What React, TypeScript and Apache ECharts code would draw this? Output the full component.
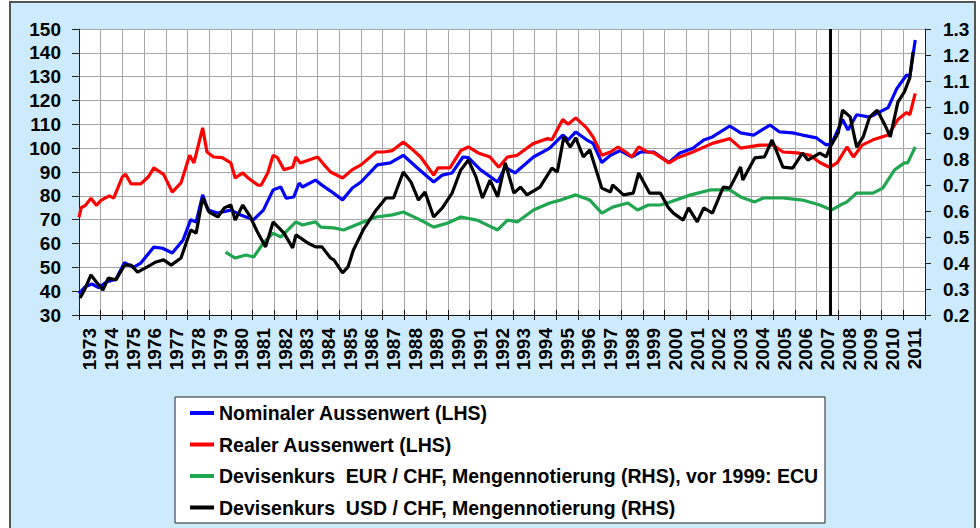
import React, { useEffect, useRef } from "react";
import * as echarts from "echarts";

const years = Array.from({ length: 39 }, (_, i) => String(1973 + i));
const leftTicks = { min: 30, max: 150, step: 10 };
const rightTicks = { min: 0.2, max: 1.3, step: 0.1 };

const seriesNames = [
  "Nominaler Aussenwert (LHS)",
  "Realer Aussenwert (LHS)",
  "Devisenkurs  EUR / CHF, Mengennotierung (RHS), vor 1999: ECU",
  "Devisenkurs  USD / CHF, Mengennotierung (RHS)",
];

const nominal: number[][] = [
  [1973.0, 39], [1973.3, 42], [1973.6, 43], [1973.9, 41.5], [1974.3, 44], [1974.7, 45],
  [1975.1, 52], [1975.5, 50], [1975.85, 51.8], [1976.45, 58.5], [1976.85, 58], [1977.3, 56],
  [1977.8, 61.5], [1978.15, 70], [1978.4, 69], [1978.7, 80.4], [1978.95, 74], [1979.4, 72.8],
  [1980.0, 74], [1980.45, 72], [1981.05, 70], [1981.5, 74], [1981.95, 82.5], [1982.3, 83.7],
  [1982.55, 79], [1982.9, 79.5], [1983.15, 85.4], [1983.3, 83.7], [1983.9, 86.6], [1984.2, 84.5],
  [1984.6, 82], [1985.15, 78.3], [1985.6, 83.3], [1986.0, 85.8], [1986.75, 93], [1987.35, 93.8],
  [1987.95, 97], [1988.6, 91.7], [1989.35, 85.8], [1989.75, 88.7], [1990.2, 89.6], [1990.7, 96.3],
  [1990.95, 96], [1991.5, 91], [1992.3, 85.8], [1992.65, 92], [1993.1, 89.6], [1993.95, 96.3],
  [1994.7, 100], [1995.3, 105.5], [1995.55, 103.5], [1995.9, 106.8], [1996.4, 103.5], [1996.7, 102],
  [1997.1, 94], [1997.5, 97], [1997.95, 99], [1998.5, 96.3], [1998.9, 98.4], [1999.5, 98.4],
  [2000.2, 94], [2000.7, 98], [2001.3, 100], [2001.8, 103.4], [2002.2, 104.7], [2003.0, 109.3],
  [2003.5, 106.4], [2004.1, 105.5], [2004.85, 109.7], [2005.3, 106.8], [2005.9, 106.4], [2006.35, 105.5],
  [2007.0, 104.3], [2007.45, 101.3], [2007.7, 102], [2008.2, 112], [2008.45, 107.6], [2008.85, 114],
  [2009.45, 113], [2010.3, 117], [2010.7, 125], [2011.15, 130.7], [2011.3, 130], [2011.55, 145.4],
];

const real: number[][] = [
  [1973.0, 71], [1973.1, 75], [1973.3, 76], [1973.55, 79], [1973.8, 76], [1974.0, 78],
  [1974.2, 79], [1974.4, 80], [1974.6, 79], [1975.0, 88], [1975.15, 89], [1975.4, 85],
  [1975.85, 85], [1976.2, 88], [1976.45, 91.7], [1976.9, 89], [1977.3, 81.6], [1977.7, 85.4],
  [1978.1, 97], [1978.3, 93.8], [1978.7, 108.5], [1978.9, 98.4], [1979.2, 96.3], [1979.6, 96],
  [1980.0, 93.8], [1980.2, 87.5], [1980.55, 89.6], [1980.8, 87.5], [1981.25, 84.5], [1981.4, 84.5],
  [1981.7, 89.6], [1981.95, 97], [1982.15, 96], [1982.45, 91], [1982.85, 92], [1983.0, 96.3],
  [1983.2, 93.8], [1983.6, 95], [1984.0, 96.3], [1984.3, 93], [1984.6, 90], [1985.15, 87.5],
  [1985.6, 91], [1986.0, 93], [1986.7, 98.4], [1987.05, 98.4], [1987.45, 99], [1987.95, 102.6],
  [1988.3, 100], [1988.75, 96.3], [1989.35, 88.7], [1989.55, 91.7], [1990.1, 91.7], [1990.6, 99],
  [1990.95, 100.5], [1991.4, 98], [1991.95, 96.3], [1992.35, 92], [1992.75, 96.3], [1993.2, 97],
  [1993.95, 102], [1994.6, 104], [1994.8, 103.5], [1995.3, 112], [1995.55, 110], [1995.9, 112.7],
  [1996.4, 108.5], [1996.7, 104.7], [1997.1, 97], [1997.5, 98.4], [1997.85, 100.5], [1998.2, 98.4],
  [1998.5, 96.3], [1998.8, 100.5], [1999.2, 98.4], [1999.5, 98], [2000.2, 93.8], [2000.6, 96],
  [2001.3, 98.4], [2002.2, 102], [2003.0, 104], [2003.5, 100], [2004.4, 101.3], [2005.0, 101.3],
  [2005.45, 98.4], [2006.1, 98], [2006.7, 97], [2007.15, 94], [2007.6, 92], [2007.95, 93.8],
  [2008.4, 100.5], [2008.7, 96.3], [2009.1, 101.3], [2009.6, 103.5], [2010.3, 105.5], [2010.75, 112],
  [2011.15, 115], [2011.3, 114], [2011.55, 123],
];

const eurChf: number[][] = [
  [1979.75, 0.442], [1980.2, 0.419], [1980.7, 0.431], [1981.05, 0.423], [1981.5, 0.477], [1981.95, 0.515],
  [1982.3, 0.5], [1983.0, 0.558], [1983.3, 0.546], [1983.9, 0.558], [1984.15, 0.538], [1984.75, 0.535],
  [1985.2, 0.527], [1986.1, 0.558], [1986.7, 0.577], [1987.45, 0.585], [1987.95, 0.596], [1988.75, 0.565],
  [1989.35, 0.538], [1990.0, 0.554], [1990.6, 0.577], [1991.35, 0.565], [1992.3, 0.527], [1992.75, 0.565],
  [1993.2, 0.558], [1993.95, 0.604], [1994.7, 0.631], [1995.2, 0.642], [1995.9, 0.662], [1996.55, 0.642],
  [1997.1, 0.592], [1997.6, 0.615], [1998.3, 0.631], [1998.75, 0.604], [1999.25, 0.623], [1999.8, 0.623],
  [2000.25, 0.635], [2001.2, 0.662], [2002.1, 0.681], [2003.0, 0.681], [2003.5, 0.654], [2004.15, 0.635],
  [2004.55, 0.65], [2005.45, 0.65], [2006.35, 0.642], [2007.15, 0.623], [2007.7, 0.604], [2008.1, 0.623],
  [2008.4, 0.635], [2008.85, 0.669], [2009.6, 0.669], [2010.05, 0.688], [2010.6, 0.758], [2011.05, 0.785],
  [2011.2, 0.785], [2011.55, 0.846],
];

const usdChf: number[][] = [
  [1973.05, 0.265], [1973.25, 0.296], [1973.55, 0.354], [1973.8, 0.327], [1974.1, 0.296], [1974.35, 0.342],
  [1974.7, 0.335], [1975.1, 0.392], [1975.4, 0.392], [1975.7, 0.365], [1976.15, 0.385], [1976.55, 0.404],
  [1976.9, 0.412], [1977.25, 0.392], [1977.7, 0.419], [1978.15, 0.527], [1978.4, 0.515], [1978.7, 0.65],
  [1979.0, 0.596], [1979.4, 0.577], [1979.7, 0.612], [1980.0, 0.623], [1980.2, 0.565], [1980.55, 0.623],
  [1980.9, 0.577], [1981.25, 0.515], [1981.6, 0.462], [1981.95, 0.558], [1982.45, 0.515], [1982.85, 0.458],
  [1983.0, 0.508], [1983.55, 0.477], [1983.9, 0.462], [1984.2, 0.462], [1984.6, 0.419], [1984.75, 0.412],
  [1985.15, 0.362], [1985.4, 0.385], [1985.65, 0.45], [1986.1, 0.527], [1986.7, 0.604], [1987.15, 0.65],
  [1987.5, 0.65], [1987.95, 0.75], [1988.3, 0.712], [1988.65, 0.642], [1988.95, 0.673], [1989.35, 0.577],
  [1989.75, 0.612], [1990.2, 0.669], [1990.6, 0.758], [1990.95, 0.796], [1991.3, 0.731], [1991.6, 0.65],
  [1991.95, 0.719], [1992.3, 0.654], [1992.65, 0.785], [1993.05, 0.669], [1993.35, 0.692], [1993.65, 0.662],
  [1994.25, 0.692], [1994.8, 0.765], [1995.05, 0.75], [1995.35, 0.885], [1995.65, 0.846], [1995.9, 0.881],
  [1996.25, 0.808], [1996.55, 0.835], [1997.1, 0.688], [1997.5, 0.673], [1997.6, 0.7], [1998.1, 0.662],
  [1998.55, 0.669], [1998.8, 0.746], [1999.3, 0.669], [1999.8, 0.669], [2000.15, 0.615], [2000.4, 0.592],
  [2000.85, 0.565], [2001.1, 0.612], [2001.5, 0.558], [2001.8, 0.612], [2002.2, 0.592], [2002.7, 0.692],
  [2003.0, 0.688], [2003.5, 0.769], [2003.6, 0.719], [2004.15, 0.804], [2004.6, 0.808], [2004.95, 0.873],
  [2005.45, 0.769], [2005.9, 0.765], [2006.35, 0.823], [2006.6, 0.796], [2007.15, 0.823], [2007.45, 0.808],
  [2007.6, 0.842], [2008.0, 0.9], [2008.2, 0.988], [2008.55, 0.962], [2008.85, 0.846], [2009.15, 0.885],
  [2009.45, 0.962], [2009.8, 0.988], [2010.15, 0.931], [2010.4, 0.885], [2010.75, 1.019], [2011.05, 1.058],
  [2011.3, 1.112], [2011.45, 1.212],
];

const crisisMarker = 2007.65;

const FONT = "'Liberation Sans', Arial, sans-serif";

export default function App() {
  const ref = useRef<HTMLDivElement>(null);

  useEffect(() => {
    if (!ref.current) return;
    const chart = echarts.init(ref.current, undefined, { renderer: "svg" });
    const lineSeries = (name: string, data: number[][], color: string, yIdx: number, extra: any = {}) => ({
      type: "line",
      name,
      data,
      xAxisIndex: 1,
      yAxisIndex: yIdx,
      showSymbol: false,
      symbol: "none",
      lineStyle: { color, width: 3.2 },
      itemStyle: { color },
      ...extra,
    });

    chart.setOption({
      animation: false,
      backgroundColor: "#ffffff",
      graphic: [
        {
          type: "rect",
          z: -10,
          shape: { x: 10, y: 2, width: 965, height: 540 },
          style: { fill: "#cdebfc", stroke: "#555555", lineWidth: 2 },
        },
        {
          type: "rect",
          z: 1,
          shape: { x: 175, y: 397, width: 650, height: 126 },
          style: { fill: "#ffffff", stroke: "#222222", lineWidth: 1 },
        },
      ],
      grid: {
        left: 79,
        top: 29,
        width: 846,
        height: 286,
        show: true,
        backgroundColor: "#ffffff",
        borderWidth: 0,
      },
      legend: {
        orient: "vertical",
        left: 185,
        top: 398,
        z: 5,
        itemGap: 11.5,
        itemWidth: 24,
        itemHeight: 4,
        icon: "rect",
        data: seriesNames,
        textStyle: {
          fontFamily: FONT,
          fontWeight: "bold",
          fontSize: 19.5,
          lineHeight: 20,
          color: "#000",
        },
      },
      xAxis: [
        {
          type: "category",
          data: years,
          position: "bottom",
          boundaryGap: true,
          axisLine: { show: true, lineStyle: { color: "#111", width: 1 } },
          axisTick: { show: true, inside: false, length: 5, interval: 0, lineStyle: { color: "#111" } },
          axisLabel: {
            interval: 0,
            rotate: 90,
            margin: 13,
            fontFamily: FONT,
            fontWeight: "bold",
            fontSize: 19,
            color: "#000",
          },
          splitLine: { show: false },
        },
        {
          type: "value",
          position: "bottom",
          min: 1973,
          max: 2012,
          interval: 1,
          axisLine: { show: false },
          axisTick: { show: true, inside: true, length: 5, lineStyle: { color: "#111" } },
          axisLabel: { show: false },
          splitLine: { show: true, lineStyle: { color: "#a6a6a6", width: 1 } },
        },
      ],
      yAxis: [
        {
          type: "value",
          position: "left",
          min: leftTicks.min,
          max: leftTicks.max,
          interval: leftTicks.step,
          axisLine: { show: true, lineStyle: { color: "#222", width: 1 } },
          axisTick: { show: true, inside: false, length: 7, lineStyle: { color: "#222" } },
          axisLabel: {
            margin: 18,
            fontFamily: FONT,
            fontWeight: "bold",
            fontSize: 19,
            color: "#000",
          },
          splitLine: { show: true, lineStyle: { color: "#a6a6a6", width: 1 } },
        },
        {
          type: "value",
          position: "right",
          min: rightTicks.min,
          max: rightTicks.max,
          interval: rightTicks.step,
          axisLine: { show: true, lineStyle: { color: "#222", width: 1 } },
          axisTick: { show: true, inside: false, length: 6, lineStyle: { color: "#222" } },
          axisLabel: {
            margin: 18,
            fontFamily: FONT,
            fontWeight: "bold",
            fontSize: 19,
            color: "#000",
            formatter: (v: number) => v.toFixed(1),
          },
          splitLine: { show: false },
        },
      ],
      series: [
        lineSeries(seriesNames[0], nominal, "#0000ff", 0),
        lineSeries(seriesNames[1], real, "#ff0000", 0),
        lineSeries(seriesNames[2], eurChf, "#1fa64e", 1),
        lineSeries(seriesNames[3], usdChf, "#000000", 1, {
          markLine: {
            silent: true,
            symbol: "none",
            label: { show: false },
            lineStyle: { color: "#000", width: 3, type: "solid" },
            data: [{ xAxis: crisisMarker }],
          },
        }),
      ],
    });
    return () => chart.dispose();
  }, []);

  return (
    <div
      ref={ref}
      style={{ position: "fixed", left: 0, top: 0, width: 980, height: 528 }}
    />
  );
}
